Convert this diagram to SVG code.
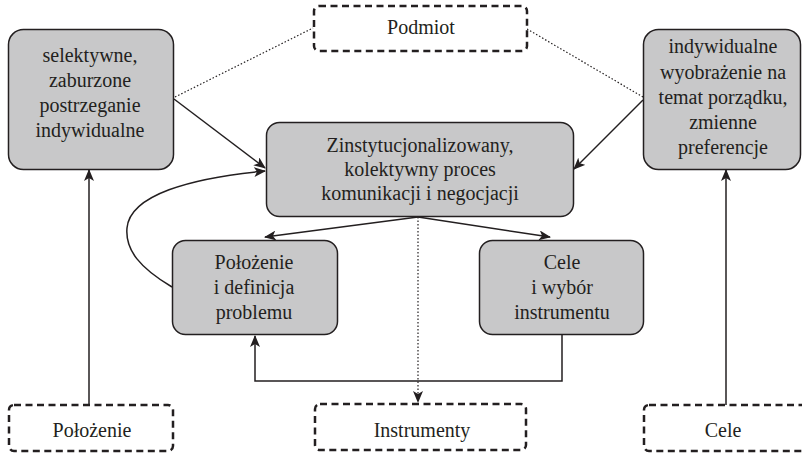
<svg xmlns="http://www.w3.org/2000/svg" width="802" height="453" viewBox="0 0 802 453">
<defs>
<marker id="ah" viewBox="0 0 12 10" refX="11" refY="5" markerWidth="12" markerHeight="10" markerUnits="userSpaceOnUse" orient="auto">
<path d="M0,0 L12,5 L0,10 L3,5 Z" fill="#231f20"/>
</marker>
<style>
.box{fill:#c8c8c9;stroke:#231f20;stroke-width:1.5}
.dash{fill:#fff;stroke:#231f20;stroke-width:2.5;stroke-dasharray:7 4.5}
text{font-family:'Liberation Serif','DejaVu Serif',serif;font-size:20px;fill:#231f20;text-anchor:middle}
.c{fill:none;stroke:#231f20;stroke-width:1.5}
.dot{fill:none;stroke:#231f20;stroke-width:1.2;stroke-dasharray:1.5 2}
</style>
</defs>
<g id="connectors">
<path class="dot" d="M175,97 L313,28"/>
<path class="dot" d="M527,29 L643,97"/>
<path class="c" d="M174,99 L265,168" marker-end="url(#ah)"/>
<path class="c" d="M643,100 L574,169" marker-end="url(#ah)"/>
<path class="c" d="M89,405 V170" marker-end="url(#ah)"/>
<path class="c" d="M726,405 V170" marker-end="url(#ah)"/>
<path class="c" d="M172,287 C140,268 125,250 127,228 C130,195 190,178 265,171" marker-end="url(#ah)"/>
<path class="c" d="M418,217 L265,237" marker-end="url(#ah)"/>
<path class="c" d="M418,217 L550,237" marker-end="url(#ah)"/>
<path class="dot" d="M418,217 V402" marker-end="url(#ah)"/>
<path class="c" d="M562,334 V381 H255 V336" marker-end="url(#ah)"/>
</g>
<g id="podmiot">
<rect class="dash" x="314" y="6" width="213" height="45" rx="5"/>
<text font-family="Liberation Serif, serif" x="421" y="34">Podmiot</text>
</g>
<g id="postrzeganie" font-family="Liberation Serif, serif">
<rect class="box" x="8.5" y="29.5" width="165" height="140" rx="15"/>
<text x="90" y="62">selektywne,</text>
<text x="90" y="87">zaburzone</text>
<text x="90" y="112">postrzeganie</text>
<text x="90" y="137">indywidualne</text>
</g>
<g id="wyobrazenie">
<rect class="box" x="643.5" y="29.5" width="157" height="140" rx="15"/>
<text x="723" y="53">indywidualne</text>
<text x="723" y="79">wyobrażenie na</text>
<text x="723" y="104">temat porządku,</text>
<text x="723" y="129">zmienne</text>
<text x="723" y="154">preferencje</text>
</g>
<g id="proces">
<rect class="box" x="266.5" y="122.5" width="307" height="94" rx="13"/>
<text x="420" y="152">Zinstytucjonalizowany,</text>
<text x="420" y="176">kolektywny proces</text>
<text x="420" y="200">komunikacji i negocjacji</text>
</g>
<g id="problem">
<rect class="box" x="172.5" y="240.5" width="165" height="94" rx="13"/>
<text x="254" y="269">Położenie</text>
<text x="254" y="294">i definicja</text>
<text x="254" y="319">problemu</text>
</g>
<g id="cele-wybor">
<rect class="box" x="479.5" y="240.5" width="164" height="94" rx="13"/>
<text x="562" y="269">Cele</text>
<text x="562" y="294">i wybór</text>
<text x="562" y="319">instrumentu</text>
</g>
<g id="polozenie">
<rect class="dash" x="9" y="405" width="164" height="46" rx="5"/>
<text x="92" y="437">Położenie</text>
</g>
<g id="instrumenty">
<rect class="dash" x="315" y="404" width="211" height="46" rx="5"/>
<text x="422" y="437">Instrumenty</text>
</g>
<g id="cele">
<rect class="dash" x="644" y="405" width="164" height="46" rx="5"/>
<text x="723" y="437">Cele</text>
</g>
</svg>
